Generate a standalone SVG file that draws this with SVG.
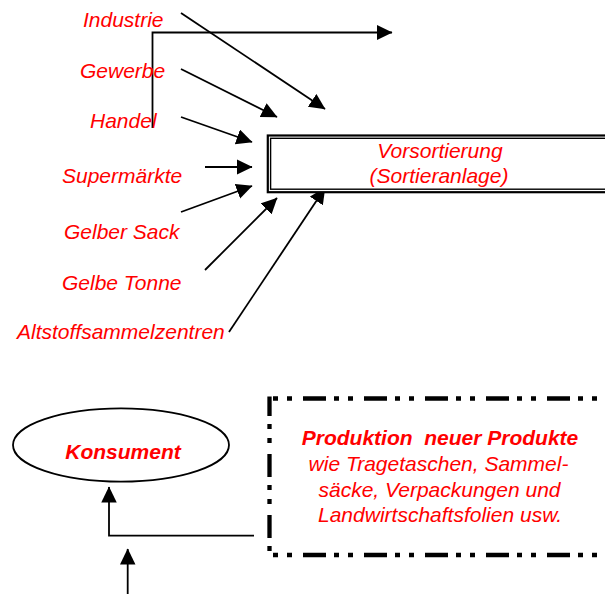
<svg xmlns="http://www.w3.org/2000/svg" width="605" height="594" viewBox="0 0 605 594">
  <defs>
    <marker id="ah" markerUnits="userSpaceOnUse" markerWidth="17" markerHeight="17" refX="15.5" refY="7.75" orient="auto">
      <path d="M0,0 L16,7.75 L0,15.5 z" fill="#000"/>
    </marker>
    <style>
      .lbl { font-family: "Liberation Sans", Arial, sans-serif; font-size: 21px; font-style: italic; fill: #ff0000; }
      .b { font-weight: bold; }
      .mid { text-anchor: middle; }
      .con { fill: none; stroke: #000; stroke-width: 1.8; marker-end: url(#ah); }
      .dd { fill: none; stroke: #000; stroke-width: 4.3; stroke-dasharray: 23 8 5 9 5 11; }
    </style>
  </defs>
  <rect width="605" height="594" fill="#fff"/>

  <g id="connectors">
    <path class="con" d="M181,13 L325,109"/>
    <path class="con" d="M152.5,128 L152.5,32.5 L392,32.5"/>
    <path class="con" d="M181,69 L277,117"/>
    <path class="con" d="M181,117 L252,142"/>
    <path class="con" d="M205,167 L252,167"/>
    <path class="con" d="M181,212 L252,186"/>
    <path class="con" d="M205,270 L277,198"/>
    <path class="con" d="M229,332 L325,188"/>
    <path class="con" d="M254,535.7 L109,535.7 L109,487"/>
    <path class="con" d="M127.7,594 L127.7,549"/>
  </g>

  <g id="industrie"><text class="lbl" x="83" y="27">Industrie</text></g>
  <g id="gewerbe"><text class="lbl" x="80" y="78">Gewerbe</text></g>
  <g id="handel"><text class="lbl" x="90" y="128">Handel</text></g>
  <g id="supermaerkte"><text class="lbl" x="62" y="183">Supermärkte</text></g>
  <g id="gelber-sack"><text class="lbl" x="64" y="239">Gelber Sack</text></g>
  <g id="gelbe-tonne"><text class="lbl" x="62" y="290">Gelbe Tonne</text></g>
  <g id="altstoff"><text class="lbl" x="17" y="339">Altstoffsammelzentren</text></g>

  <g id="vorsortierung">
    <rect x="267.8" y="135.5" width="360" height="56.7" fill="#fff" stroke="#000" stroke-width="2.2"/>
    <rect x="270.6" y="138.3" width="360" height="50.9" fill="none" stroke="#000" stroke-width="1.4"/>
    <text class="lbl mid" x="440" y="158">Vorsortierung</text>
    <text class="lbl mid" x="439" y="183">(Sortieranlage)</text>
  </g>

  <g id="konsument">
    <ellipse cx="121" cy="445" rx="108" ry="36.7" fill="#fff" stroke="#000" stroke-width="1.8"/>
    <text class="lbl b mid" x="123" y="459">Konsument</text>
  </g>

  <g id="produktion">
    <line class="dd" x1="267" y1="398.5" x2="620" y2="398.5" stroke-dashoffset="25"/>
    <line class="dd" x1="267" y1="555" x2="620" y2="555" stroke-dashoffset="25"/>
    <line class="dd" x1="269.5" y1="396.5" x2="269.5" y2="557" stroke-dashoffset="3.5"/>
    <text class="lbl b mid" x="440" y="445" xml:space="preserve">Produktion  neuer Produkte</text>
    <text class="lbl mid" x="438.5" y="470.7">wie Tragetaschen, Sammel-</text>
    <text class="lbl mid" x="439.5" y="496.7">säcke, Verpackungen und</text>
    <text class="lbl mid" x="440" y="521.7">Landwirtschaftsfolien usw.</text>
  </g>
</svg>
